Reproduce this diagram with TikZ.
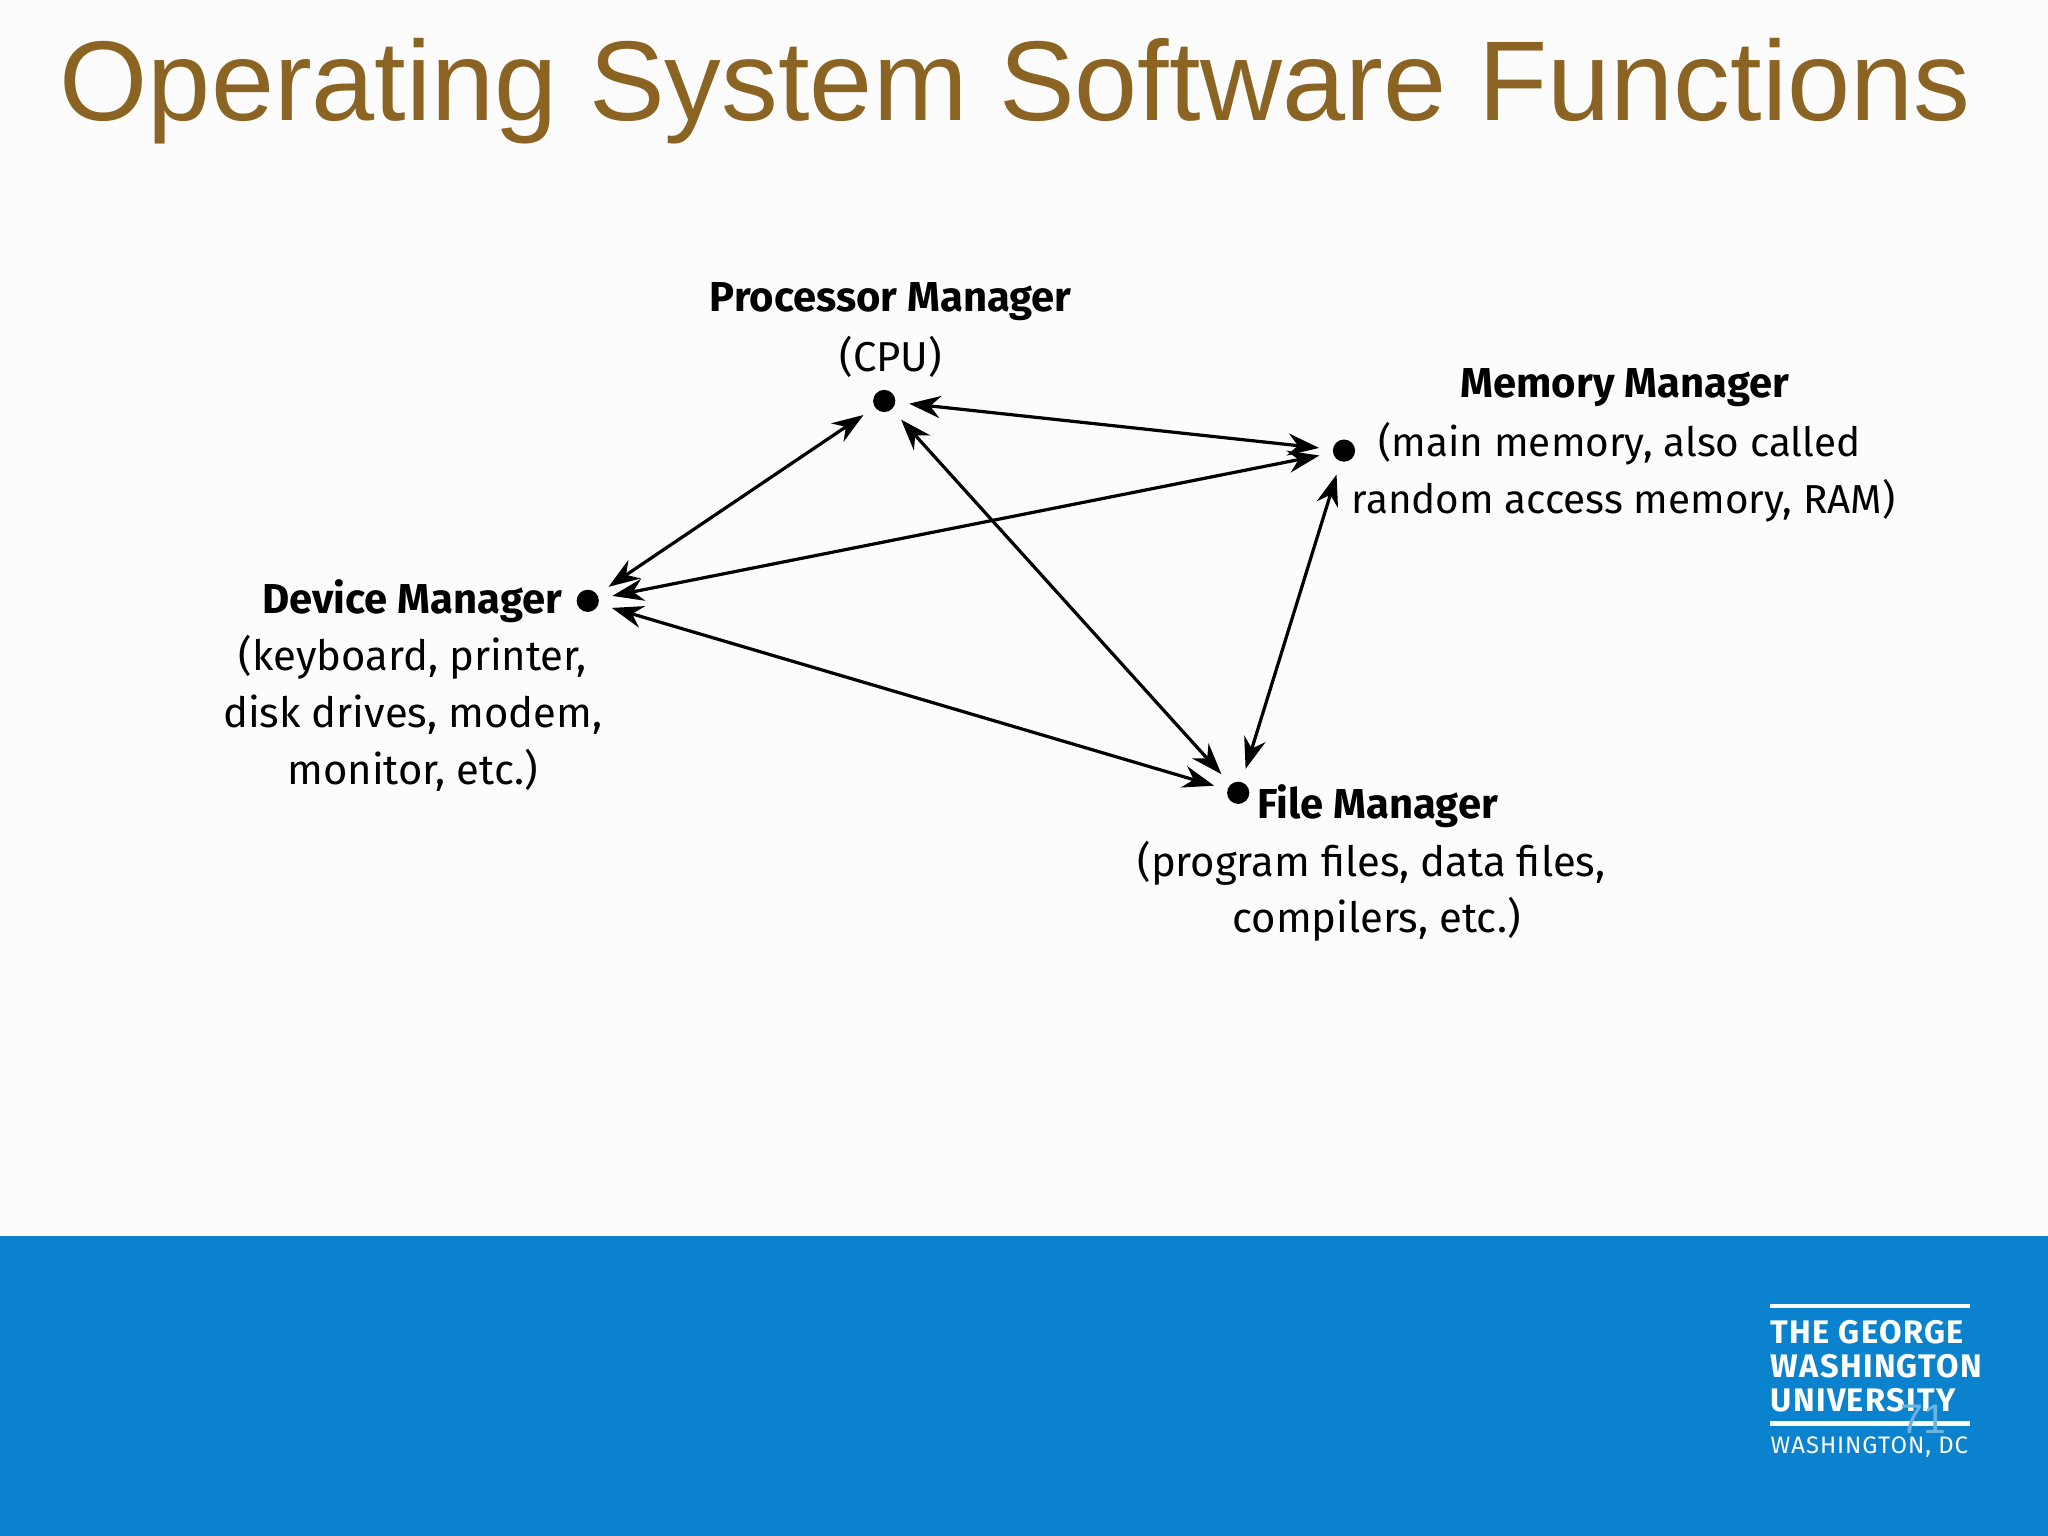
\documentclass[tikz,border=0pt]{standalone}
\usepackage{fontspec}
\setmainfont{Liberation Sans}
\newfontfamily\dfont{Fira Sans}
\usetikzlibrary{arrows.meta}
\definecolor{titlec}{HTML}{8B6424}
\definecolor{bandc}{HTML}{0A82CE}
\tikzset{
  dot/.style={circle,fill=black,inner sep=0pt,minimum size=0.17cm},
  lab/.style={font=\dfont\fontsize{9.1}{11}\selectfont,inner sep=0pt,align=center},
  blab/.style={lab,font=\dfont\bfseries\fontsize{9.1}{11}\selectfont},
  link/.style={{Stealth[length=0.24cm,width=0.17cm]}-{Stealth[length=0.24cm,width=0.17cm]},line width=0.7pt,shorten <=0.1cm,shorten >=0.1cm},
  logo/.style={white,font=\dfont\bfseries\fontsize{7.1}{9}\selectfont,inner sep=0pt,anchor=west}
}
\begin{document}
\begin{tikzpicture}[x=0.01cm,y=-0.01cm]
\fill[white!98!gray] (0,0) rectangle (1568,1176);
\useasboundingbox (0,0) rectangle (1568,1176);
\fill[bandc] (0,946) rectangle (1568,1176);
\node[titlec,anchor=base west,inner sep=0pt,font=\fontsize{24.7}{28}\selectfont] (title) at (45,92) {Operating System Software Functions};
\node[dot] (cpu) at (677,307) {};
\node[dot] (mem) at (1029,345) {};
\node[dot] (dev) at (450,460) {};
\node[dot] (file) at (948,607) {};
\node[blab] (cpul) at (682,231) {Processor Manager};
\node[lab] (cpul2) at (682,273) {(CPU)};
\node[blab] (meml) at (1244,297) {Memory Manager};
\node[lab,font=\dfont\fontsize{8.8}{11}\selectfont] (meml2) at (1240,340) {(main memory, also called};
\node[lab,font=\dfont\fontsize{8.8}{11}\selectfont] (meml3) at (1243,383) {random access memory, RAM)};
\node[blab,anchor=east] (devl) at (431,460) {Device Manager};
\node[lab] (devl2) at (316,503) {(keyboard, printer,};
\node[lab] (devl3) at (316,547) {disk drives, modem,};
\node[lab] (devl4) at (316,590) {monitor, etc.)};
\node[blab,anchor=west] (filel) at (962,617) {File Manager};
\node[lab] (filel2) at (1050,661) {(program files, data files,};
\node[lab] (filel3) at (1054,704) {compilers, etc.)};
\draw[link] (cpu) -- (dev);
\draw[link] (cpu) -- (mem);
\draw[link] (cpu) -- (file);
\draw[link] (mem) -- (dev);
\draw[link] (mem) -- (file);
\draw[link] (dev) -- (file);
\draw[white,line width=1pt] (1355,1000) -- (1508,1000);
\draw[white,line width=1pt] (1355,1090) -- (1508,1090);
\node[logo] (g1) at (1355,1020) {\addfontfeatures{LetterSpace=4}THE GEORGE};
\node[logo] (g2) at (1355,1046) {\addfontfeatures{LetterSpace=4}WASHINGTON};
\node[logo] (g3) at (1355,1072) {\addfontfeatures{LetterSpace=4}UNIVERSITY};
\node[logo,font=\dfont\fontsize{5.2}{7}\selectfont] (g4) at (1355,1108) {\addfontfeatures{LetterSpace=4}WASHINGTON, DC};
\node[bandc!60!white,font=\fontsize{9}{10}\selectfont,inner sep=0pt] (pg) at (1473,1087) {71};
\end{tikzpicture}
\end{document}
